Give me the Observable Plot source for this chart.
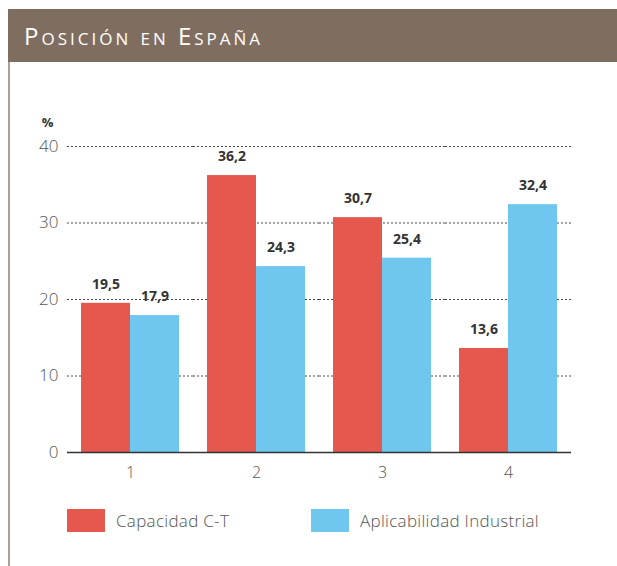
<!DOCTYPE html>
<html>
<head>
<meta charset="utf-8">
<script src="https://cdn.jsdelivr.net/npm/d3@7"></script>
<script src="https://cdn.jsdelivr.net/npm/@observablehq/plot@0.6"></script>
<style>
  html, body { margin: 0; padding: 0; background: #fff; }
  body { width: 617px; height: 566px; position: relative; overflow: hidden; font-family: "Open Sans", Lato, sans-serif; }
  #header { position: absolute; left: 8px; top: 9px; width: 609px; height: 53px; background: #7f6e5f; }
  #header span { position: absolute; left: 16px; top: 0; line-height: 53px; font-size: 24px; color: #fff; font-variant: small-caps; letter-spacing: 3px; }
  #leftrule { position: absolute; left: 8px; top: 62px; width: 2px; height: 504px; background: #a9a199; }
  #chart { position: absolute; left: 0; top: 90px; }
  #legend { position: absolute; top: 508px; left: 0; width: 617px; height: 24px; }
  .item { position: absolute; top: 0; display: flex; align-items: center; height: 24px; }
  .sw { width: 38px; height: 23px; margin-right: 11px; }
  .lab { font-size: 17px; color: #555; font-weight: 300; letter-spacing: 0.3px; }
</style>
</head>
<body>
<div id="header"><span>Posición en España</span></div>
<div id="leftrule"></div>
<div id="chart"></div>
<div id="legend"></div>
<script>
const categories = ["1", "2", "3", "4"];
const seriesNames = ["Capacidad C-T", "Aplicabilidad Industrial"];
const capacidad = [19.5, 36.2, 30.7, 13.6];
const aplicabilidad = [17.9, 24.3, 25.4, 32.4];
const yTicks = [0, 10, 20, 30, 40];
const colors = ["#e5584e", "#6fc7ef"];

const data = [];
categories.forEach((c, i) => {
  data.push({cat: c, series: seriesNames[0], value: capacidad[i]});
  data.push({cat: c, series: seriesNames[1], value: aplicabilidad[i]});
});
const fmt = v => v.toFixed(1).replace(".", ",");

const chart = Plot.plot({
  width: 617,
  height: 400,
  marginLeft: 67,
  marginRight: 46,
  marginTop: 56,
  marginBottom: 38,
  style: {fontFamily: "'Open Sans', Lato, sans-serif", background: "transparent"},
  fx: {domain: categories, paddingInner: 0.22, paddingOuter: 0.11, label: null},
  x: {domain: seriesNames, padding: 0, axis: null},
  y: {domain: [0, 40], axis: null},
  color: {domain: seriesNames, range: colors},
  marks: [
    Plot.ruleY(yTicks.filter(t => t > 0), {stroke: "#4a4a4a", strokeWidth: 1, strokeDasharray: "2,2", insetLeft: -14, insetRight: -14}),
    Plot.barY(data, {fx: "cat", x: "series", y: "value", fill: "series"}),
    Plot.text(data, {fx: "cat", x: "series", y: "value", text: d => fmt(d.value), dy: -19, fontWeight: "bold", fontSize: 14, fill: "#333"}),
    Plot.ruleY([0], {stroke: "#333", strokeWidth: 1.5, insetLeft: -14, insetRight: -14}),
    Plot.axisY({ticks: yTicks, tickSize: 0, tickPadding: 23, fontSize: 17, fontWeight: 300, fill: "#555", label: null, tickFormat: d => String(d)}),
    Plot.axisFx({anchor: "bottom", tickSize: 0, tickPadding: 14, fontSize: 16, fontWeight: 300, fill: "#555", label: null}),
    Plot.text(["%"], {facet: "super", frameAnchor: "top-left", textAnchor: "middle", lineAnchor: "middle", dx: -34, dy: -24, fontWeight: "bold", fontSize: 13, fill: "#333"})
  ]
});
document.getElementById("chart").appendChild(chart);

const legend = document.getElementById("legend");
const lefts = [67, 311];
seriesNames.forEach((s, i) => {
  const item = document.createElement("div");
  item.className = "item";
  item.style.left = lefts[i] + "px";
  const sw = document.createElement("div");
  sw.className = "sw";
  sw.style.background = colors[i];
  const lab = document.createElement("span");
  lab.className = "lab";
  lab.textContent = s;
  item.appendChild(sw);
  item.appendChild(lab);
  legend.appendChild(item);
});
</script>
</body>
</html>
